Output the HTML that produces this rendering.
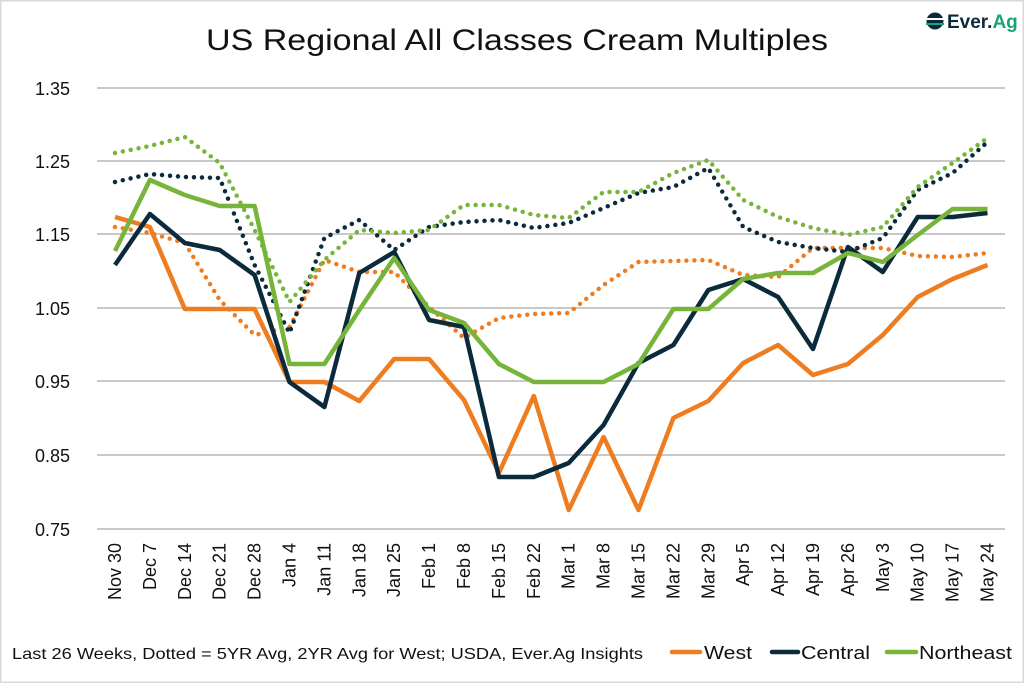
<!DOCTYPE html>
<html><head><meta charset="utf-8"><style>
html,body{margin:0;padding:0;background:#fff}
svg{display:block}
text{font-family:"Liberation Sans",sans-serif;fill:#111}
</style></head><body>
<svg width="1024" height="683" viewBox="0 0 1024 683" xmlns="http://www.w3.org/2000/svg">
<rect x="0.5" y="0.5" width="1023" height="682" fill="#fff" stroke="#d9d9d9" stroke-width="2"/>
<text x="517" y="50" font-size="30" text-anchor="middle" textLength="622" lengthAdjust="spacingAndGlyphs">US Regional All Classes Cream Multiples</text>
<g>
<circle cx="935" cy="21" r="8.5" fill="#0b2a3c"/>
<rect x="926" y="18" width="18" height="2" fill="#fff"/>
<rect x="926" y="23" width="18" height="2" fill="#1aa37a"/>
<text x="947" y="28" font-size="19" font-weight="bold" style="fill:#0b2a3c">Ever.<tspan style="fill:#1aa37a">Ag</tspan></text>
</g>
<g stroke="#c8c8c8" stroke-width="2">
<line x1="97" x2="1005" y1="88" y2="88"/><line x1="97" x2="1005" y1="161" y2="161"/>
<line x1="97" x2="1005" y1="234" y2="234"/><line x1="97" x2="1005" y1="308" y2="308"/>
<line x1="97" x2="1005" y1="381" y2="381"/><line x1="97" x2="1005" y1="455" y2="455"/>
<line x1="97" x2="1005" y1="529" y2="529"/>
</g>
<g font-size="18" text-anchor="end">
<text x="70" y="95">1.35</text><text x="70" y="168">1.25</text><text x="70" y="241">1.15</text>
<text x="70" y="315">1.05</text><text x="70" y="388">0.95</text><text x="70" y="462">0.85</text>
<text x="70" y="536">0.75</text>
</g>
<g font-size="18" text-anchor="end" id="xl"></g>
<g fill="none" stroke-linejoin="round" stroke-width="4.5">
<polyline id="wd" stroke="#ee7d22" stroke-dasharray="0 8" stroke-linecap="round"/>
<polyline id="cd" stroke="#0b2a3c" stroke-dasharray="0 8" stroke-linecap="round"/>
<polyline id="nd" stroke="#76b53a" stroke-dasharray="0 8" stroke-linecap="round"/>
<polyline id="w" stroke="#ee7d22"/>
<polyline id="c" stroke="#0b2a3c"/>
<polyline id="n" stroke="#76b53a"/>
</g>
<text x="12" y="659" font-size="16" textLength="631" lengthAdjust="spacingAndGlyphs">Last 26 Weeks, Dotted = 5YR Avg, 2YR Avg for West; USDA, Ever.Ag Insights</text>
<g stroke-width="4.5" stroke-linecap="round">
<line x1="672" x2="700" y1="652" y2="652" stroke="#ee7d22"/>
<line x1="772" x2="798" y1="652" y2="652" stroke="#0b2a3c"/>
<line x1="887" x2="916" y1="652" y2="652" stroke="#76b53a"/>
</g>
<g font-size="18"><text x="704" y="659" textLength="48" lengthAdjust="spacingAndGlyphs">West</text><text x="801" y="659" textLength="69" lengthAdjust="spacingAndGlyphs">Central</text><text x="919" y="659" textLength="93" lengthAdjust="spacingAndGlyphs">Northeast</text></g>
</svg>
<script>
var X=i=>115+i*34.9;
var d={
w:[217,227,309,309,309,382,382,401,359,359,400,473,396,510,437,510,418,401,363,345,375,364,335,297,279,265],
wd:[227,233,243,300,335,327,260,272,272,307,338,318,314,313,285,262,261,260,275,277,248,248,248,256,257,253],
c:[265,214,243,250,275,382,407,273,252,320,327,477,477,463,425,363,345,290,279,297,349,247,272,217,217,213],
cd:[182,174,177,178,265,333,238,220,250,227,222,220,228,223,208,193,187,168,227,242,248,252,238,190,173,142],
n:[251,180,195,206,206,364,364,310,258,310,323,364,382,382,382,364,309,309,279,273,273,253,262,235,209,209],
nd:[153,146,137,163,230,302,260,230,233,230,205,205,215,218,192,192,173,160,200,217,228,235,227,187,163,138]};
for(var k in d){document.getElementById(k).setAttribute('points',d[k].map((y,i)=>X(i).toFixed(1)+','+y).join(' '));}
var L=["Nov 30","Dec 7","Dec 14","Dec 21","Dec 28","Jan 4","Jan 11","Jan 18","Jan 25","Feb 1","Feb 8","Feb 15","Feb 22","Mar 1","Mar 8","Mar 15","Mar 22","Mar 29","Apr 5","Apr 12","Apr 19","Apr 26","May 3","May 10","May 17","May 24"];
var g=document.getElementById('xl'),s='';
L.forEach((t,i)=>{var x=X(i)+6;s+='<text transform="translate('+x+',543) rotate(-90)">'+t+'</text>';});
g.innerHTML=s;
</script>
</body></html>
